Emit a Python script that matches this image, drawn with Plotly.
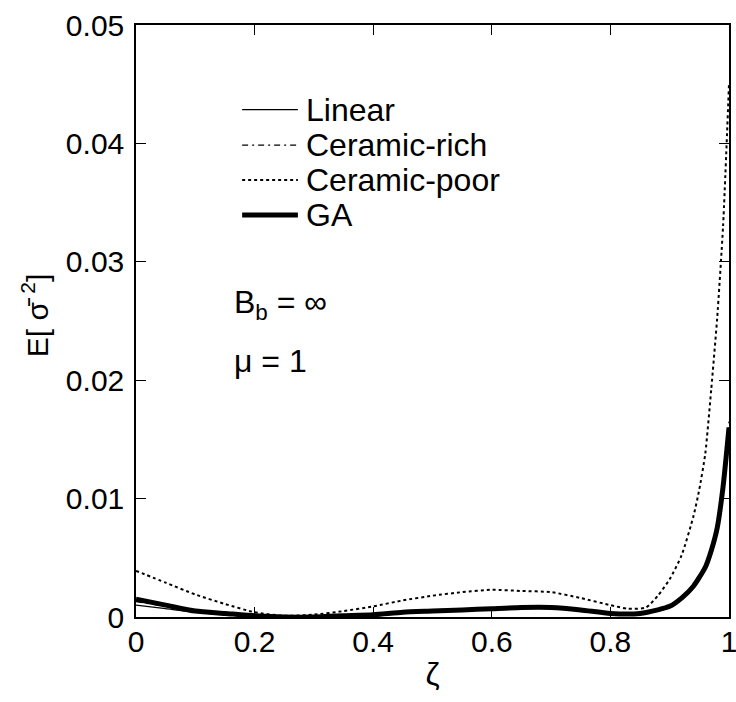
import plotly.graph_objects as go

# ---- data ----
zeta_poor = [0, 0.05, 0.1, 0.15, 0.2, 0.25, 0.3, 0.35, 0.4, 0.45, 0.5, 0.55, 0.6, 0.65, 0.7,
             0.75, 0.8, 0.83, 0.86, 0.88, 0.9, 0.92, 0.94, 0.95, 0.96, 0.97, 0.98, 0.99, 1.0]
ceramic_poor = [0.0039, 0.0029, 0.0019, 0.0011, 0.0004, 0.0001, 0.0002, 0.0005, 0.0009, 0.0014,
                0.0018, 0.0021, 0.0023, 0.0022, 0.0021, 0.0016, 0.0010, 0.0007, 0.0008, 0.0018,
                0.0032, 0.0052, 0.0085, 0.0108, 0.0138, 0.0192, 0.0252, 0.0330, 0.0450]

zeta_solid = [0, 0.05, 0.1, 0.15, 0.2, 0.25, 0.3, 0.35, 0.4, 0.45, 0.5, 0.55, 0.6, 0.65, 0.7,
              0.75, 0.8, 0.85, 0.88, 0.9, 0.92, 0.94, 0.96, 0.97, 0.98, 0.99, 1.0]
linear = [0.0010, 0.0007, 0.0004, 0.0002, 0.0001, 0.0, 0.0, 0.0001, 0.0002, 0.0004, 0.0005,
          0.0006, 0.0007, 0.0008, 0.0008, 0.0006, 0.0003, 0.0003, 0.0005, 0.0008, 0.0015,
          0.0025, 0.0040, 0.0054, 0.0073, 0.0106, 0.0155]
ceramic_rich = [0.0013, 0.0009, 0.0005, 0.0003, 0.0001, 0.0, 0.0, 0.0001, 0.0003, 0.0004, 0.0006,
                0.0007, 0.0008, 0.0009, 0.0008, 0.0006, 0.0003, 0.0003, 0.0006, 0.0009, 0.0016,
                0.0027, 0.0043, 0.0058, 0.0078, 0.0113, 0.0165]
ga = [0.0015, 0.0010, 0.0005, 0.0003, 0.0001, 0.0, 0.0, 0.0001, 0.0002, 0.0004, 0.0005,
      0.0006, 0.0007, 0.0008, 0.0008, 0.0006, 0.0003, 0.0003, 0.0006, 0.0009, 0.0016,
      0.0026, 0.0042, 0.0056, 0.0075, 0.0110, 0.0160]

x_ticks = [0, 0.2, 0.4, 0.6, 0.8, 1]
x_tick_labels = ["0", "0.2", "0.4", "0.6", "0.8", "1"]
y_ticks = [0, 0.01, 0.02, 0.03, 0.04, 0.05]
y_tick_labels = ["0", "0.01", "0.02", "0.03", "0.04", "0.05"]

series = [
    ("Linear", zeta_solid, linear, dict(color="black", width=1.3, dash="solid")),
    ("Ceramic-rich", zeta_solid, ceramic_rich, dict(color="black", width=1.3, dash="6px,4px,2px,4px")),
    ("Ceramic-poor", zeta_poor, ceramic_poor, dict(color="black", width=2, dash="dot")),
    ("GA", zeta_solid, ga, dict(color="black", width=5, dash="solid")),
]

FONT = "Liberation Sans, Arial, sans-serif"

fig = go.Figure()
for name, xs, ys, line in series:
    fig.add_trace(go.Scatter(x=xs, y=ys, mode="lines", name=name,
                             line=dict(line, shape="spline", smoothing=0.6), showlegend=False))

# manual legend (sample lines + labels)
leg_y = [0.857, 0.797, 0.738, 0.679]
for (name, xs, ys, line), yy in zip(series, leg_y):
    fig.add_shape(type="line", xref="paper", yref="paper", x0=0.179, x1=0.273, y0=yy, y1=yy,
                  line=dict(color="black", width=line["width"], dash=line["dash"]))
    fig.add_annotation(x=0.283, y=yy, xref="paper", yref="paper", text=name, showarrow=False,
                       xanchor="left", yanchor="middle", font=dict(size=32, color="black", family=FONT))

fig.add_annotation(x=0.162, y=0.528, xref="paper", yref="paper", text="B<sub>b</sub> = ∞",
                   showarrow=False, xanchor="left", yanchor="middle",
                   font=dict(size=32, color="black", family=FONT))
fig.add_annotation(x=0.162, y=0.432, xref="paper", yref="paper", text="μ = 1",
                   showarrow=False, xanchor="left", yanchor="middle",
                   font=dict(size=32, color="black", family=FONT))

# y-axis title
fig.add_annotation(x=-0.17, y=0.51, xref="paper", yref="paper", text="E[ σ̄ <sup>2</sup>]",
                   showarrow=False, textangle=-90, xanchor="center", yanchor="middle",
                   font=dict(size=30, color="black", family=FONT))

axis_common = dict(showline=True, linecolor="black", linewidth=1.5, mirror="ticks",
                   ticks="inside", ticklen=10, tickwidth=1.2, tickcolor="black",
                   showgrid=False, zeroline=False, automargin=False,
                   ticklabeloverflow="allow",
                   tickfont=dict(size=30, color="black", family=FONT))

fig.update_xaxes(range=[0, 1], tickvals=x_ticks, ticktext=x_tick_labels, ticklabelstandoff=-3,
                 title=dict(text="ζ", font=dict(size=32, color="black", family=FONT), standoff=6),
                 **axis_common)
fig.update_yaxes(range=[0, 0.05], tickvals=y_ticks, ticktext=y_tick_labels, ticklabelstandoff=4,
                 **axis_common)

fig.update_layout(width=736, height=702, margin=dict(l=136, r=7, t=25, b=85),
                  paper_bgcolor="white", plot_bgcolor="white",
                  font=dict(family=FONT, color="black"))

fig.write_html("out.html")
